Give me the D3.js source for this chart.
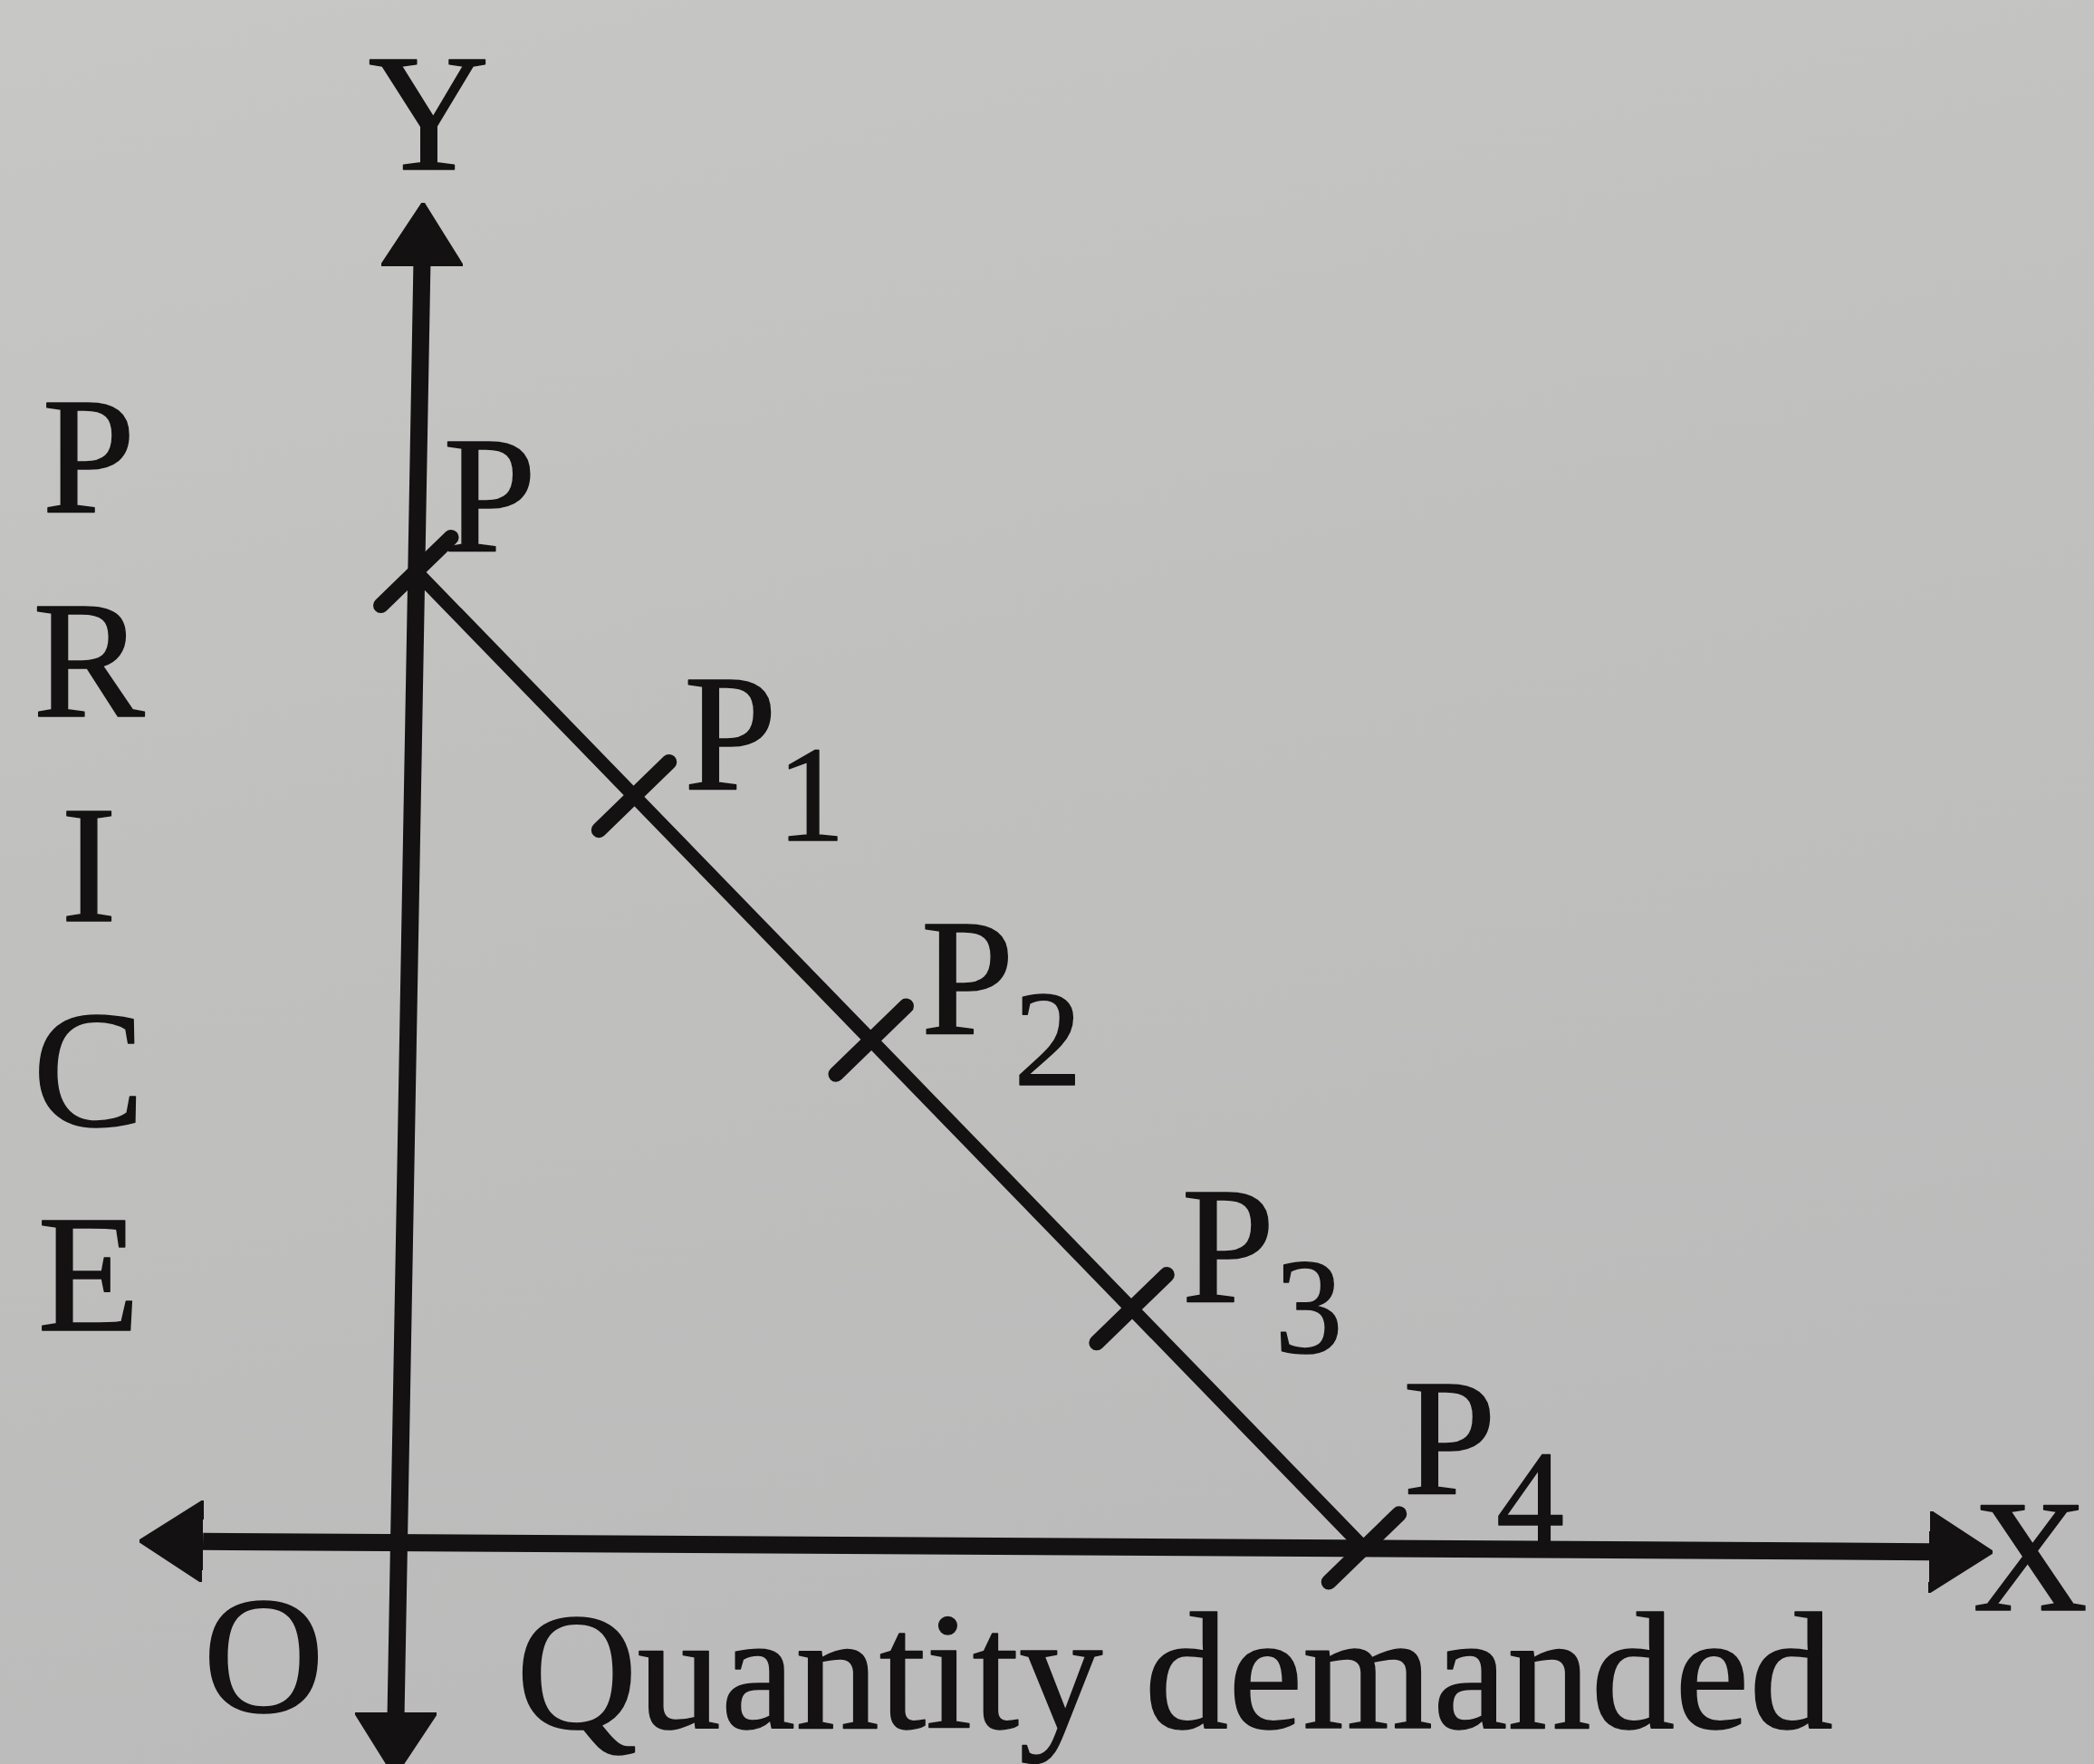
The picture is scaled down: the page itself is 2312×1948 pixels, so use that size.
<!DOCTYPE html>
<html>
<head>
<meta charset="utf-8">
<script src="https://cdn.jsdelivr.net/npm/d3@7"></script>
<style>
  html, body { margin: 0; padding: 0; background: #c0c0be; }
  svg { display: block; }
</style>
</head>
<body>
<script>
// ---- data ----
const pointNames = ["P", "P", "P", "P", "P"];
const pointSubs = ["", "1", "2", "3", "4"];
const quantity = [0, 2.3, 4.8, 7.55, 10];
const price = [10, 7.7, 5.2, 2.45, 0];
const xAxisExtent = [-2.03, 15.85];
const yAxisExtent = [-1.75, 13.15];
const xTitle = "Quantity demanded";
const yTitle = "PRICE";
const xEndLabel = "X";
const yEndLabel = "Y";
const originLabel = "O";

// ---- layout ----
const W = 2312, H = 1948;
const origin = { x: 440, y: 1703 };
const skewX = -0.018, skewY = 0.006;   // slight tilt of the photographed page
const ink = "#131111";
const font = "'Liberation Serif', 'Times New Roman', serif";

const xs = d3.scaleLinear().domain([0, 10]).range([0, 1066]);
const ys = d3.scaleLinear().domain([0, 10]).range([0, -1072]);

function project(q, p) {
  const lx = xs(q), ly = ys(p);
  return { x: origin.x + lx + skewX * ly, y: origin.y + skewY * lx + ly };
}

const svg = d3.select("body").append("svg")
  .attr("width", W).attr("height", H);

const defs = svg.append("defs");
const grad = defs.append("linearGradient").attr("id", "paper")
  .attr("x1", 0).attr("y1", 0).attr("x2", 0.3).attr("y2", 1);
grad.append("stop").attr("offset", 0).attr("stop-color", "#c7c7c5");
grad.append("stop").attr("offset", 0.5).attr("stop-color", "#c0c0bf");
grad.append("stop").attr("offset", 1).attr("stop-color", "#bbbbbb");
svg.append("rect").attr("width", W).attr("height", H).attr("fill", "url(#paper)");

// arrow marker
const arrowLen = 70, arrowWid = 90;
defs.append("marker").attr("id", "arrow")
  .attr("markerUnits", "userSpaceOnUse")
  .attr("viewBox", `0 ${-arrowWid / 2} ${arrowLen} ${arrowWid}`)
  .attr("refX", 0).attr("refY", 0)
  .attr("markerWidth", arrowLen).attr("markerHeight", arrowWid)
  .attr("orient", "auto-start-reverse")
  .append("path")
  .attr("d", `M0,${-arrowWid / 2}L${arrowLen},0L0,${arrowWid / 2}Z`)
  .attr("fill", ink).attr("stroke", ink).attr("stroke-width", 3).attr("stroke-linejoin", "round");

// plot group: local coordinates with origin at O, skewed like the photo
const g = svg.append("g")
  .attr("transform", `matrix(1,${skewY},${skewX},1,${origin.x},${origin.y})`);

const xAxisScale = d3.scaleLinear().domain(xAxisExtent).range(xAxisExtent.map(xs));
const yAxisScale = d3.scaleLinear().domain(yAxisExtent).range(yAxisExtent.map(ys));

const xAxisG = g.append("g").call(d3.axisBottom(xAxisScale).tickValues([]).tickSizeOuter(0));
const yAxisG = g.append("g").call(d3.axisLeft(yAxisScale).tickValues([]).tickSizeOuter(0));
[xAxisG, yAxisG].forEach(a => {
  a.select(".domain")
    .attr("stroke", ink).attr("stroke-width", 19)
    .attr("marker-start", "url(#arrow)").attr("marker-end", "url(#arrow)");
});

// demand line
const pts = quantity.map((q, i) => ({ q, p: price[i], name: pointNames[i], sub: pointSubs[i] }));
g.append("path")
  .datum(pts)
  .attr("d", d3.line().x(d => xs(d.q)).y(d => ys(d.p)))
  .attr("fill", "none").attr("stroke", ink).attr("stroke-width", 15)
  .attr("stroke-linecap", "butt");

// tick marks perpendicular to the line (drawn in screen space)
const a = project(pts[0].q, pts[0].p), b = project(pts[pts.length - 1].q, pts[pts.length - 1].p);
const len = Math.hypot(b.x - a.x, b.y - a.y);
const dir = { x: (b.x - a.x) / len, y: (b.y - a.y) / len };
const perp = { x: dir.y, y: -dir.x };
const half = 54;
svg.append("g").selectAll("line").data(pts).join("line")
  .attr("x1", d => project(d.q, d.p).x - half * perp.x)
  .attr("y1", d => project(d.q, d.p).y - half * perp.y)
  .attr("x2", d => project(d.q, d.p).x + half * perp.x)
  .attr("y2", d => project(d.q, d.p).y + half * perp.y)
  .attr("stroke", ink).attr("stroke-width", 17).attr("stroke-linecap", "round");

// point labels
const labelG = svg.append("g").attr("font-family", font).attr("fill", ink)
  .attr("stroke", ink).attr("stroke-width", 1.5).attr("stroke-linejoin", "round");
pts.forEach((d, i) => {
  const s = project(d.q, d.p);
  let off = { x: 55, y: -8 };
  if (i === 0) off = { x: 30, y: -23 };
  if (i === pts.length - 1) off = { x: 43, y: -60 };
  const t = labelG.append("text")
    .attr("x", s.x + off.x).attr("y", s.y + off.y)
    .attr("font-size", 185).text(d.name);
  if (d.sub) t.append("tspan").attr("dy", 57).attr("font-size", 150).text(d.sub);
});

// axis end labels and titles
const yTop = project(0, yAxisExtent[1]);
labelG.append("text").attr("x", yTop.x + 8).attr("y", 187)
  .attr("text-anchor", "middle").attr("font-size", 185).text(yEndLabel);
labelG.append("text").attr("x", 2178).attr("y", 1778)
  .attr("font-size", 176).text(xEndLabel);
labelG.append("text").attr("x", 291).attr("y", 1890)
  .attr("text-anchor", "middle").attr("font-size", 185).text(originLabel);
labelG.append("text").attr("x", 570).attr("y", 1908)
  .attr("font-size", 185).text(xTitle);

// vertical PRICE title
labelG.selectAll("text.ytitle").data(yTitle.split("")).join("text")
  .attr("class", "ytitle")
  .attr("x", 98).attr("y", (c, i) => 565 + i * 226)
  .attr("text-anchor", "middle").attr("font-size", 185).text(c => c);
</script>
</body>
</html>
